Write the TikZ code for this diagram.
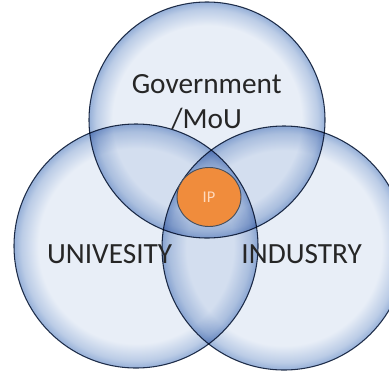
\documentclass[tikz,border=0pt]{standalone}
\usepackage{fontspec}
\setmainfont{Carlito}
\usetikzlibrary{shapes.geometric}

\definecolor{vennfill}{RGB}{232,238,247}
\definecolor{vennrim}{RGB}{150,176,216}
\definecolor{vennline}{RGB}{40,55,80}
\definecolor{ipfill}{RGB}{240,140,60}
\definecolor{ipline}{RGB}{70,80,95}
\definecolor{iptext}{RGB}{255,218,190}

% pale disc with a darker blue band along the rim
\pgfdeclareradialshading{vennball}{\pgfpoint{0bp}{0bp}}{color(0bp)=(vennfill); color(20bp)=(vennfill); color(23.5bp)=(vennrim!55!vennfill); color(25bp)=(vennrim); color(50bp)=(vennrim)}

\begin{document}
\begin{tikzpicture}[line cap=round,line join=round,
    setcircle/.style={shading=vennball, draw=vennline, line width=0.9pt, blend mode=multiply},
    setlabel/.style={text=black!85, font=\fontsize{25}{30}\selectfont}]
      \path[use as bounding box] (0,0) rectangle (11.67,11.16);

      % the three sets, multiplied so overlaps come out darker
      \shadedraw[setcircle] (6.21,7.56) circle (3.54);
      \shadedraw[setcircle] (4.08,3.78) circle (3.66);
      \shadedraw[setcircle] (8.52,3.72) circle (3.66);

      \node[ellipse, fill=ipfill, draw=ipline, line width=0.8pt, inner sep=0pt,
            minimum width=1.92cm, minimum height=1.77cm, text=iptext,
            font=\fontsize{14}{16}\selectfont] (ip) at (6.27,5.25) {IP};

      \node[setlabel, align=center] (gov) at (6.2,8.1) {Government\\/MoU};
      \node[setlabel, anchor=base] (univ) at (3.29,3.27) {UNIVESITY};
      \node[setlabel, anchor=base] (ind) at (9.05,3.27) {INDUSTRY};

    \end{tikzpicture}
\end{document}
